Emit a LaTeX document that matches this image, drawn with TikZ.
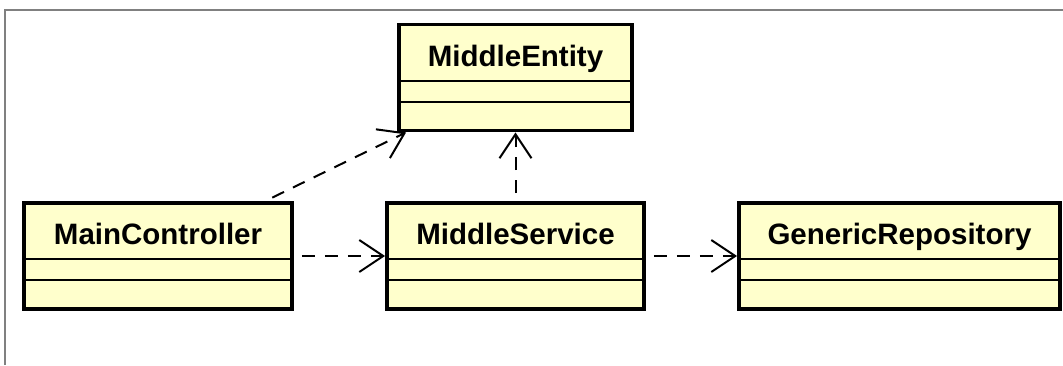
\documentclass[tikz,border=0pt]{standalone}
\usepackage{fontspec}
\setmainfont{Liberation Sans}
\usetikzlibrary{arrows.meta,calc,shadows}
\definecolor{clsfill}{HTML}{FFFFCC}
\definecolor{frame}{HTML}{808080}
\tikzset{
  x=1pt, y=-1pt,
  cls/.style={draw=black, line width=3.8pt, fill=clsfill, inner sep=0pt,
    minimum height=106pt, drop shadow={shadow xshift=1.5pt, shadow yshift=-1.5pt, fill=black!25, opacity=0.6}},
  clsname/.style={anchor=base, font=\fontsize{29.5}{35}\selectfont\bfseries, inner sep=0pt},
  sep/.style={line width=1.8pt},
  dep/.style={line width=2pt, dash pattern=on 13pt off 10pt, dash phase=15pt,
    -{Straight Barb[length=24pt, width=32pt, line width=2pt]}},
}
\begin{document}
\begin{tikzpicture}
\useasboundingbox (0,0) rectangle (1063,365);
\draw[frame, line width=1.6pt] (5,365) -- (5,10) -- (1063,10);

% class boxes
\node[cls, minimum width=233pt] (me) at (515.5,77.5) {};
\node[cls, minimum width=268pt] (mc) at (158,256) {};
\node[cls, minimum width=257pt] (ms) at (515.5,256) {};
\node[cls, minimum width=321pt] (gr) at (899.5,256) {};

% names
\node[clsname] (men) at ($(me.north)+(0,43.5)$) {MiddleEntity};
\node[clsname] (mcn) at ($(mc.north)+(0,43.5)$) {MainController};
\node[clsname] (msn) at ($(ms.north)+(0,43.5)$) {MiddleService};
\node[clsname] (grn) at ($(gr.north)+(0,43.5)$) {GenericRepository};

% compartments
\foreach \n in {me,mc,ms,gr}{
  \draw[sep] ($(\n.north west)+(0,58)$) -- ($(\n.north east)+(0,58)$);
  \draw[sep] ($(\n.north west)+(0,79)$) -- ($(\n.north east)+(0,79)$);
}

% dependencies
\draw[dep] (mc.east) -- (ms.west);
\draw[dep] (ms.east) -- (gr.west);
\draw[dep] (ms.north) -- (me.south);
\draw[dep] ($(mc.north west)+(243,0)$) -- ($(me.south west)+(9,0)$);
\end{tikzpicture}
\end{document}
